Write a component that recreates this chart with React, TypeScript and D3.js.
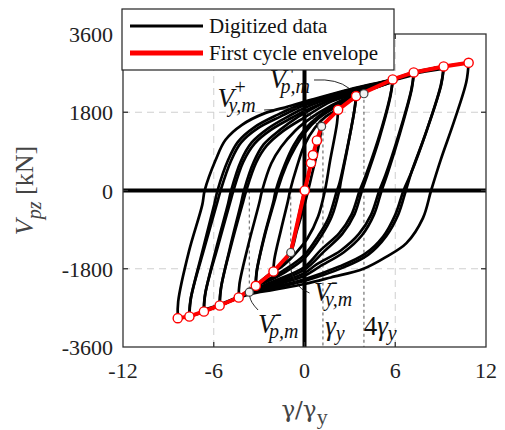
import React from 'react';
import * as d3 from 'd3';

const width = 505;
const height = 430;
const margin = { top: 34, right: 14, bottom: 83, left: 123 };

const xTicks = [-12, -6, 0, 6, 12];
const yTicks = [-3600, -1800, 0, 1800, 3600];
const gridX = [-6, 6];
const gridY = [-1800, 1800];

// digitized hysteresis branches [gamma/gamma_y, V_pz]
// loading branches (negative peak -> positive peak)
const upperBranches: number[][][] = [
  [[-8.38,-2936],[-8.35,-2550],[-7.64,-1400],[-6.76,-330],[-6.6,0],[-5.87,706],[-5.22,1166],[-4.13,1511],[-2.61,1780],[-1.09,1932],[0.43,2086],[3.0,2330],[5.83,2560],[7.22,2720],[8.6,2820],[10.85,2938]],
  [[-7.61,-2898],[-7.55,-2550],[-6.75,-1400],[-5.95,-300],[-5.75,0],[-5.05,700],[-4.4,1120],[-3.3,1460],[-1.8,1740],[0,2010],[2.5,2270],[4.5,2440],[5.83,2554],[7.22,2710],[9.2,2853]],
  [[-7.61,-2850],[-7.5,-2450],[-6.6,-1300],[-5.75,-250],[-5.55,0],[-4.85,690],[-4.2,1100],[-3.1,1430],[-1.6,1700],[0,1960],[2.5,2240],[4.5,2420],[5.83,2540],[7.22,2680],[9.2,2800]],
  [[-6.65,-2783],[-6.6,-2450],[-5.85,-1350],[-5.05,-300],[-4.85,0],[-4.2,680],[-3.5,1100],[-2.4,1430],[-1.0,1720],[0,1900],[2.5,2220],[4.5,2430],[5.83,2554],[7.22,2715]],
  [[-6.65,-2740],[-6.55,-2350],[-5.7,-1250],[-4.9,-250],[-4.7,0],[-4.05,660],[-3.3,1080],[-2.2,1400],[-0.8,1680],[0,1830],[2.5,2180],[4.5,2400],[5.83,2530],[7.22,2660]],
  [[-5.61,-2645],[-5.55,-2300],[-4.95,-1350],[-4.2,-300],[-4.0,0],[-3.35,660],[-2.7,1060],[-1.6,1400],[-0.4,1700],[0,1780],[1.8,2100],[3.9,2300],[5.83,2554]],
  [[-5.61,-2600],[-5.5,-2200],[-4.8,-1200],[-4.05,-250],[-3.85,0],[-3.2,640],[-2.5,1030],[-1.4,1370],[0,1680],[1.8,2050],[3.9,2270],[5.83,2500]],
  [[-4.35,-2461],[-4.3,-2150],[-3.75,-1300],[-3.0,-300],[-2.8,0],[-2.2,620],[-1.55,1000],[-0.6,1380],[0,1560],[1.0,1800],[2.5,2080],[4.0,2280],[5.83,2500]],
  [[-3.22,-2192],[-3.18,-1900],[-2.7,-1100],[-2.05,-250],[-1.9,0],[-1.3,600],[-0.7,1050],[0,1400],[0.9,1700],[2.0,1950],[3.41,2171]],
  [[-3.22,-2150],[-3.15,-1850],[-2.6,-1000],[-1.95,-200],[-1.8,0],[-1.2,580],[-0.6,1000],[0,1320],[0.9,1650],[2.0,1900],[3.41,2120]],
  [[-2.05,-1863],[-2.0,-1600],[-1.55,-900],[-1.1,-250],[-0.95,0],[-0.5,550],[0,1050],[0.7,1450],[1.4,1700],[2.22,1856]],
  [[-0.91,-1426],[-0.6,-950],[-0.2,-300],[0.3,420],[0.8,1100],[1.13,1473]],
];

// unloading branches (positive peak -> negative peak)
const lowerBranches: number[][][] = [
  [[10.85,2938],[10.7,2500],[9.9,1600],[9.0,700],[8.37,0],[7.83,-635],[6.74,-1210],[5.43,-1520],[3.9,-1800],[1.74,-2000],[0,-2150],[-2.0,-2280],[-3.7,-2390],[-5.61,-2645],[-6.65,-2783],[-7.61,-2898],[-8.38,-2936]],
  [[9.2,2853],[9.05,2450],[8.1,1400],[7.1,450],[6.7,0],[6.2,-550],[5.4,-1050],[4.2,-1480],[2.5,-1780],[0,-2080],[-2.0,-2240],[-3.7,-2370],[-5.61,-2645],[-7.61,-2898]],
  [[9.2,2800],[9.0,2400],[8.0,1300],[7.05,400],[6.55,0],[6.0,-560],[5.2,-1060],[4.0,-1460],[2.3,-1750],[0,-2040],[-2.0,-2220],[-3.7,-2360],[-5.61,-2620],[-6.65,-2740]],
  [[7.22,2715],[7.1,2350],[6.3,1300],[5.5,400],[5.1,0],[4.6,-550],[3.8,-1030],[2.6,-1420],[1.0,-1750],[0,-1960],[-2.0,-2180],[-3.7,-2350],[-5.61,-2645],[-6.65,-2783]],
  [[7.22,2660],[7.05,2300],[6.2,1250],[5.35,350],[4.95,0],[4.4,-560],[3.6,-1000],[2.4,-1380],[0.8,-1700],[0,-1900],[-2.0,-2150],[-3.7,-2340],[-4.35,-2461]],
  [[5.83,2554],[5.7,2200],[4.95,1200],[4.15,350],[3.8,0],[3.3,-550],[2.5,-1000],[1.3,-1400],[0,-1820],[-2.0,-2120],[-3.7,-2340],[-4.35,-2461],[-5.61,-2645]],
  [[5.83,2500],[5.65,2150],[4.85,1150],[4.0,300],[3.65,0],[3.1,-560],[2.3,-980],[1.1,-1360],[0,-1760],[-2.0,-2080],[-3.7,-2320]],
  [[3.41,2171],[3.3,1850],[2.8,900],[2.4,200],[2.3,0],[1.8,-600],[1.1,-1050],[0,-1560],[-1.3,-1880],[-2.5,-2100],[-3.22,-2192],[-3.7,-2300],[-4.35,-2461]],
  [[3.41,2120],[3.28,1800],[2.75,850],[2.3,150],[2.15,0],[1.6,-620],[0.9,-1050],[0,-1480],[-1.3,-1820],[-2.5,-2060],[-3.22,-2150]],
  [[2.22,1856],[2.15,1550],[1.7,700],[1.35,0],[0.9,-600],[0.2,-1100],[-0.6,-1450],[-1.5,-1750],[-2.05,-1863],[-2.6,-2000],[-3.22,-2192]],
  [[1.13,1473],[0.95,1050],[0.5,380],[0,-330],[-0.5,-920],[-0.91,-1426],[-1.5,-1700],[-2.05,-1863]],
];

// first cycle envelope
const envelope: number[][] = [
  [-8.38,-2936],[-7.61,-2898],[-6.65,-2783],[-5.61,-2645],[-4.35,-2461],[-3.22,-2192],[-2.05,-1863],[-0.91,-1426],
  [0.02,0],[0.43,630],[0.56,814],[0.82,1150],[1.13,1473],[2.22,1856],[3.41,2171],[5.83,2554],[7.22,2715],[9.2,2853],[10.85,2938],
];
// characteristic points (yield / peak)
const charPoints: number[][] = [[-3.65,-2338],[-0.91,-1426],[1.13,1473],[3.93,2225]];
// dashed markers [x, from, to]
const refLines: number[][] = [[-3.65,0,-2338],[-0.91,0,-1426],[1.22,1473,-3600],[3.93,2225,-3600]];

const serif = '"Liberation Serif"';
const greek = '"DejaVu Serif"';

const App = () => {
  const x = d3.scaleLinear().domain([-12, 12]).range([margin.left, width - margin.right - 5]);
  const y = d3.scaleLinear().domain([-3600, 3600]).range([height - margin.bottom, margin.top]);

  const line = d3.line<number[]>()
    .x(d => x(d[0]))
    .y(d => y(d[1]))
    .curve(d3.curveCatmullRom.alpha(0.5));
  const straight = d3.line<number[]>().x(d => x(d[0])).y(d => y(d[1]));

  const x0 = x.range()[0], x1 = x.range()[1];
  const y0 = y.range()[0], y1 = y.range()[1];

  // V with stacked super / subscript, all in one text
  const sym = (px: number, py: number, sup: string, sub: string) => (
    <text x={x(px)} y={y(py)} fontFamily={serif} fontStyle="italic" fontSize={27} fill="#111">
      V
      <tspan x={x(px) + 17} dy={-13} fontSize={20} fontStyle="normal">{sup}</tspan>
      <tspan x={x(px) + 11} dy={18} fontSize={20}>{sub}</tspan>
    </text>
  );

  return (
    <div style={{ position: 'fixed', left: 0, top: 0 }}>
      <svg width={width} height={height} style={{ display: 'block', background: '#fff' }}>
        {/* grid */}
        {gridX.map(v => (
          <line key={'gx' + v} x1={x(v)} x2={x(v)} y1={y0} y2={y1} stroke="#cfcfcf" strokeWidth={1} strokeDasharray="7,5" />
        ))}
        {gridY.map(v => (
          <line key={'gy' + v} x1={x0} x2={x1} y1={y(v)} y2={y(v)} stroke="#cfcfcf" strokeWidth={1} strokeDasharray="7,5" />
        ))}

        {/* reference dashed lines */}
        {refLines.map((r, i) => (
          <line key={'r' + i} x1={x(r[0])} x2={x(r[0])} y1={y(r[1])} y2={y(r[2])} stroke="#555" strokeWidth={1} strokeDasharray="3,3" />
        ))}

        {/* digitized data */}
        <g fill="none" stroke="#000" strokeWidth={2.7} strokeLinejoin="round" strokeLinecap="round">
          {upperBranches.map((b, i) => <path key={'u' + i} d={line(b) || ''} />)}
          {lowerBranches.map((b, i) => <path key={'l' + i} d={line(b) || ''} />)}
        </g>

        {/* zero lines */}
        <line x1={x0} x2={x1} y1={y(0)} y2={y(0)} stroke="#000" strokeWidth={4} />
        <line x1={x(0)} x2={x(0)} y1={y0} y2={y1} stroke="#000" strokeWidth={4} />

        {/* frame */}
        <rect x={x0} y={y1} width={x1 - x0} height={y0 - y1} fill="none" stroke="#333" strokeWidth={1.3} />
        {xTicks.slice(1, -1).map(t => (
          <g key={'xt' + t} stroke="#333" strokeWidth={1.3}>
            <line x1={x(t)} x2={x(t)} y1={y0} y2={y0 - 5} />
            <line x1={x(t)} x2={x(t)} y1={y1} y2={y1 + 5} />
          </g>
        ))}
        {yTicks.slice(1, -1).map(t => (
          <g key={'yt' + t} stroke="#333" strokeWidth={1.3}>
            <line x1={x0} x2={x0 + 5} y1={y(t)} y2={y(t)} />
            <line x1={x1} x2={x1 - 5} y1={y(t)} y2={y(t)} />
          </g>
        ))}

        {/* envelope */}
        <path d={straight(envelope) || ''} fill="none" stroke="#ff0000" strokeWidth={4} strokeLinejoin="round" />
        {envelope.filter(p => !charPoints.some(c => c[0] === p[0] && c[1] === p[1])).map((p, i) => (
          <circle key={'e' + i} cx={x(p[0])} cy={y(p[1])} r={4.6} fill="#fff" stroke="#ff0000" strokeWidth={1.4} />
        ))}
        {charPoints.map((p, i) => (
          <circle key={'c' + i} cx={x(p[0])} cy={y(p[1])} r={4} fill="#f2f2f2" stroke="#444" strokeWidth={1.2} />
        ))}

        {/* annotations */}
        <g fill="none" stroke="#111" strokeWidth={0.9}>
          <path d={`M${x(-2.67)},${y(1852)} L${x(-0.59)},${y(1886)} Q${x(0.35)},${y(1830)} ${x(0.8)},${y(1530)}`} />
          <path d={`M${x(0.63)},${y(2542)} Q${x(2.15)},${y(2575)} ${x(2.95)},${y(2350)}`} />
          <path d={`M${x(0.33)},${y(-2358)} Q${x(-0.85)},${y(-2220)} ${x(-0.98)},${y(-1650)}`} />
          <path d={`M${x(-3.07)},${y(-2749)} Q${x(-3.59)},${y(-2565)} ${x(-3.62)},${y(-2430)}`} />
        </g>
        {sym(-5.75, 1921, '+', 'y,m')}
        {sym(-2.32, 2358, '+', 'p,m')}
        {sym(0.62, -2553, '-', 'y,m')}
        {sym(-3.07, -3278, '-', 'p,m')}
        <text x={x(1.37)} y={y(-3330)} fontFamily={serif} fontStyle="italic" fontSize={27} fill="#111">
          γ<tspan fontSize={20} dy={5}>y</tspan>
        </text>
        <text x={x(3.91)} y={y(-3330)} fontFamily={serif} fontStyle="italic" fontSize={27} fill="#111">
          <tspan fontStyle="normal">4</tspan>γ<tspan fontSize={20} dy={5}>y</tspan>
        </text>

        {/* tick labels */}
        <g fontFamily={serif} fontSize={22} fill="#222">
          {yTicks.map(t => (
            <text key={'yl' + t} x={x0 - 10} y={y(t) + 8} textAnchor="end">{t}</text>
          ))}
          {xTicks.map(t => (
            <text key={'xl' + t} x={x(t)} y={y0 + 31} textAnchor="middle">{t}</text>
          ))}
        </g>

        {/* axis labels */}
        <text x={x(0)} y={417} textAnchor="middle" fontFamily={greek} fontSize={23} fill="#444">
          γ/γ<tspan fontFamily={serif} fontSize={22} dy={7}>y</tspan>
        </text>
        <text transform={`translate(33, ${(y0 + y1) / 2}) rotate(-90)`} textAnchor="middle" fontFamily={serif} fontSize={26} fill="#444">
          <tspan fontStyle="italic">V</tspan>
          <tspan fontStyle="italic" fontSize={20} dy={8}>pz</tspan>
          <tspan dy={-8}> [kN]</tspan>
        </text>

        {/* legend */}
        <g>
          <rect x={122} y={9} width={272} height={61} fill="#fff" stroke="#222" strokeWidth={1.2} />
          <line x1={130} x2={203} y1={26} y2={26} stroke="#000" strokeWidth={3} />
          <line x1={130} x2={203} y1={53} y2={53} stroke="#ff0000" strokeWidth={5} />
          <g fontFamily={serif} fontSize={21} fill="#111">
            <text x={209} y={33}>Digitized data</text>
            <text x={209} y={60}>First cycle envelope</text>
          </g>
        </g>
      </svg>
    </div>
  );
};

export default App;
